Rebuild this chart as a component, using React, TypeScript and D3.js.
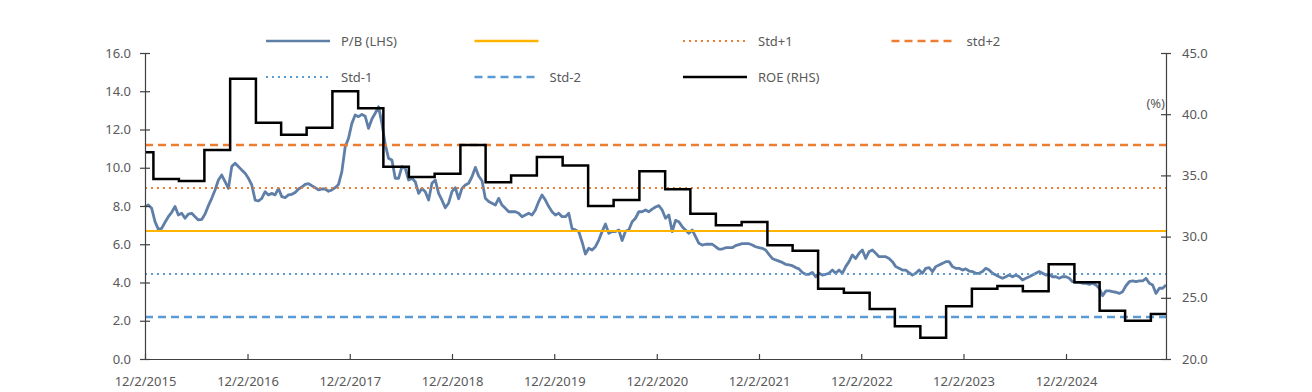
import React, { useEffect, useRef } from "react";
import * as d3 from "d3";

// P/B (LHS) at an even spacing, Dec 2015 -> Nov 2025
const pbSeg1 = [
  7.97, 8.05, 7.88, 7.18, 6.78, 6.83, 7.15, 7.44, 7.67, 7.97,
  7.53, 7.62, 7.36, 7.58, 7.62, 7.44, 7.27, 7.3, 7.58, 8.02,
  8.4, 8.84, 9.36, 9.62, 9.27, 8.92, 10.06, 10.23, 10.06, 9.88,
  9.71, 9.45, 9.1, 8.31, 8.26, 8.4, 8.75, 8.58, 8.66, 8.58,
  8.92, 8.49, 8.44, 8.58, 8.61, 8.71, 8.89, 8.99, 9.13, 9.17,
  9.06, 8.96, 8.84, 8.89, 8.89, 8.77, 8.84, 8.96, 9.13, 9.8,
  11.1, 11.54, 12.32, 12.76, 12.67, 12.79, 12.69, 12.06, 12.55, 12.85,
  13.19, 12.32, 11.22, 10.49, 10.41, 9.45, 9.45
];
const pbSeg2 = [
  10.06, 9.97, 9.36, 9.45, 9.27, 8.66, 8.92, 8.75, 8.31, 9.19,
  9.36, 8.66, 8.31, 7.91, 8.16, 8.75, 8.96, 8.38, 8.92, 9.1,
  9.19, 9.53, 10.02, 9.57, 9.32, 8.4, 8.23, 8.14, 8.05, 8.4,
  8.05, 7.88, 7.7, 7.7, 7.7, 7.62, 7.44, 7.53, 7.62, 7.53,
  7.79, 8.23, 8.58, 8.31, 7.97, 7.7, 7.53, 7.62, 7.44, 7.44,
  7.62, 6.81, 6.75, 6.66, 6.12, 5.49, 5.79, 5.7, 5.87, 6.22,
  6.66, 7.06, 6.57, 6.66, 6.66, 6.75, 6.19, 6.68, 6.75, 7.18,
  7.36, 7.7, 7.7, 7.79, 7.7, 7.84
];
const pbSeg3 = [
  7.95, 8.02, 7.79, 7.36, 7.53, 6.66, 7.25, 7.18, 6.92, 6.75,
  6.57, 6.75, 6.4, 6.05, 5.96, 6.0, 6.0, 6.0, 5.87, 5.75,
  5.75, 5.82, 5.82, 5.82, 5.93, 5.98, 6.03, 6.03, 6.03, 5.96,
  5.87, 5.82, 5.79, 5.7, 5.47, 5.26, 5.18, 5.12, 5.05, 4.95,
  4.92, 4.88, 4.78, 4.71, 4.53, 4.43, 4.43, 4.53, 4.3, 4.48,
  4.39, 4.43, 4.48, 4.65, 4.48, 4.65, 4.48, 4.83, 5.09, 5.44,
  5.26, 5.53, 5.7, 5.26, 5.61, 5.7, 5.53, 5.35, 5.35, 5.35,
  5.26, 5.09, 4.83, 4.74, 4.65, 4.65, 4.51
];
const pbSeg4 = [
  4.39, 4.48, 4.65, 4.48, 4.74, 4.78, 4.57, 4.83, 4.92, 5.0,
  5.09, 5.09, 4.83, 4.74, 4.74, 4.65, 4.71, 4.6, 4.57, 4.48,
  4.48, 4.57, 4.74, 4.65, 4.48, 4.39, 4.3, 4.22, 4.3, 4.39,
  4.3, 4.39, 4.3, 4.13, 4.22, 4.3, 4.39, 4.48, 4.57, 4.48,
  4.39, 4.43, 4.3, 4.3, 4.22, 4.3, 4.3, 4.22, 4.04, 4.01,
  4.01, 3.96, 3.96, 3.9, 3.96, 3.87, 3.7, 3.31, 3.56, 3.56,
  3.52, 3.49, 3.43, 3.52, 3.83, 4.04, 4.08, 4.04, 4.08, 4.08,
  4.22, 3.96, 3.87, 3.43, 3.7, 3.7, 3.87
];
const pbStart = "12/2/2015";
const pbEnd = "11/24/2025";

// quarterly ROE (RHS, %), first value is the partial quarter at the start
const roeValues = [
  36.9,
  34.7, 34.55, 37.07, 42.9,
  39.3, 38.33, 38.9, 41.87,
  40.48, 35.71, 34.87, 35.14,
  37.48, 34.44, 35.0, 36.5,
  35.8, 32.5, 32.99, 35.33,
  33.86, 31.87, 30.92, 31.2,
  29.3, 28.85, 25.74, 25.42,
  24.08, 22.67, 21.73, 24.31,
  25.74, 25.96, 25.53, 27.74,
  26.27, 23.95, 23.13, 23.68
];

const bandNames = ["mean", "Std+1", "std+2", "Std-1", "Std-2"];
const bandValues = [6.69, 8.94, 11.19, 4.44, 2.2];

const leftTicks = [0, 2, 4, 6, 8, 10, 12, 14, 16];
const rightTicks = [20, 25, 30, 35, 40, 45];
const xTickLabels = [
  "12/2/2015", "12/2/2016", "12/2/2017", "12/2/2018", "12/2/2019",
  "12/2/2020", "12/2/2021", "12/2/2022", "12/2/2023", "12/2/2024"
];

const App = () => {
  const svgRef = useRef(null);
  const width = 1312;
  const height = 392;
  const plot = { left: 145, right: 1166, top: 53, bottom: 359 };
  const font = "'Noto Sans', sans-serif";
  const textColor = "#595959";

  useEffect(() => {
    const svg = d3.select(svgRef.current);
    svg.selectAll("*").remove();

    const parse = d3.timeParse("%m/%d/%Y");
    const start = parse(pbStart);
    const end = parse(pbEnd);

    const x = d3.scaleTime().domain([start, end]).range([plot.left, plot.right]);
    const yL = d3.scaleLinear().domain([0, 16]).range([plot.bottom, plot.top]);
    const yR = d3.scaleLinear().domain([20, 45]).range([plot.bottom, plot.top]);

    const bandStyle = {
      "mean": { color: "#FFB400", dash: null, w: 2 },
      "Std+1": { color: "#ED7D31", dash: "2 4", w: 2 },
      "std+2": { color: "#ED7D31", dash: "8 5", w: 2.5 },
      "Std-1": { color: "#5B9BD5", dash: "2 4", w: 2 },
      "Std-2": { color: "#5B9BD5", dash: "8 5", w: 2.5 }
    };

    // P/B series
    const pbValues = pbSeg1.concat(pbSeg2, pbSeg3, pbSeg4);
    const stepMs = (end.getTime() - start.getTime()) / (pbValues.length - 1);
    const pbData = pbValues.map((v, i) => ({ date: new Date(start.getTime() + i * stepMs), value: v }));

    const pbLine = d3.line()
      .x(d => x(d.date))
      .y(d => yL(d.value))
      .curve(d3.curveLinear);

    svg.append("path")
      .datum(pbData)
      .attr("fill", "none")
      .attr("stroke", "#5F7FA8")
      .attr("stroke-width", 2.8)
      .attr("stroke-linejoin", "round")
      .attr("d", pbLine);

    // mean / std lines
    bandNames.forEach((name, i) => {
      const st = bandStyle[name];
      svg.append("line")
        .attr("x1", plot.left)
        .attr("x2", plot.right)
        .attr("y1", yL(bandValues[i]))
        .attr("y2", yL(bandValues[i]))
        .attr("stroke", st.color)
        .attr("stroke-width", st.w)
        .attr("stroke-dasharray", st.dash);
    });

    // ROE step line
    const quarters = d3.timeMonth.range(new Date(2016, 0, 1), new Date(2026, 0, 1), 3);
    const roeDates = [start].concat(quarters);
    const roeData = roeValues.map((v, i) => ({ date: roeDates[i], value: v }));
    roeData.push({ date: end, value: roeValues[roeValues.length - 1] });

    const roeLine = d3.line()
      .x(d => Math.min(x(d.date), plot.right))
      .y(d => yR(d.value))
      .curve(d3.curveStepAfter);

    svg.append("path")
      .datum(roeData)
      .attr("fill", "none")
      .attr("stroke", "#000")
      .attr("stroke-width", 2.5)
      .attr("d", roeLine);

    // axes
    const axisColor = "#404040";
    const left = svg.append("g").attr("transform", `translate(${plot.left},0)`)
      .call(d3.axisLeft(yL).tickValues(leftTicks).tickFormat(d3.format(".1f")).tickSizeInner(5).tickSizeOuter(0).tickPadding(9));
    const right = svg.append("g").attr("transform", `translate(${plot.right},0)`)
      .call(d3.axisRight(yR).tickValues(rightTicks).tickFormat(d3.format(".1f")).tickSizeInner(5).tickSizeOuter(0).tickPadding(11));
    const bottom = svg.append("g").attr("transform", `translate(0,${plot.bottom})`)
      .call(d3.axisBottom(x).tickValues(xTickLabels.map(parse)).tickFormat((d, i) => xTickLabels[i]).tickSizeInner(-5).tickSizeOuter(0).tickPadding(18));

    [left, right, bottom].forEach(g => {
      g.select(".domain").attr("stroke", axisColor).attr("stroke-width", 1.2);
      g.selectAll(".tick line").attr("stroke", axisColor).attr("stroke-width", 1.2);
      g.selectAll(".tick text")
        .attr("fill", textColor)
        .style("font-family", font)
        .style("font-size", "13px");
    });
    // y ticks cross the axis line
    left.selectAll(".tick line").attr("x1", 5);
    right.selectAll(".tick line").attr("x1", -5);

    svg.append("text")
      .attr("x", plot.right - 1)
      .attr("y", 108)
      .attr("text-anchor", "end")
      .attr("fill", textColor)
      .style("font-family", font)
      .style("font-size", "13px")
      .text("(%)");

    // legend
    const legendItems = [
      { label: "P/B (LHS)", color: "#5F7FA8", dash: null, w: 2.5, col: 0, row: 0 },
      { label: "", color: bandStyle["mean"].color, dash: null, w: 2.5, col: 1, row: 0 },
      { label: "Std+1", color: bandStyle["Std+1"].color, dash: "2 4", w: 2, col: 2, row: 0 },
      { label: "std+2", color: bandStyle["std+2"].color, dash: "8 5", w: 2.5, col: 3, row: 0 },
      { label: "Std-1", color: bandStyle["Std-1"].color, dash: "2 4", w: 2, col: 0, row: 1 },
      { label: "Std-2", color: bandStyle["Std-2"].color, dash: "8 5", w: 2.5, col: 1, row: 1 },
      { label: "ROE (RHS)", color: "#000", dash: null, w: 2.5, col: 2, row: 1 }
    ];
    const legend = svg.append("g");
    legendItems.forEach(item => {
      const lx = 266 + item.col * 208.5;
      const ly = 41 + item.row * 36;
      legend.append("line")
        .attr("x1", lx).attr("x2", lx + 64)
        .attr("y1", ly).attr("y2", ly)
        .attr("stroke", item.color)
        .attr("stroke-width", item.w)
        .attr("stroke-dasharray", item.dash);
      legend.append("text")
        .attr("x", lx + 75)
        .attr("y", ly + 4.5)
        .attr("fill", textColor)
        .style("font-family", font)
        .style("font-size", "13px")
        .text(item.label);
    });
  }, []);

  return (
    <svg
      ref={svgRef}
      width={width}
      height={height}
      style={{ position: "absolute", left: 0, top: 0, background: "#fff" }}
    />
  );
};

export default App;
